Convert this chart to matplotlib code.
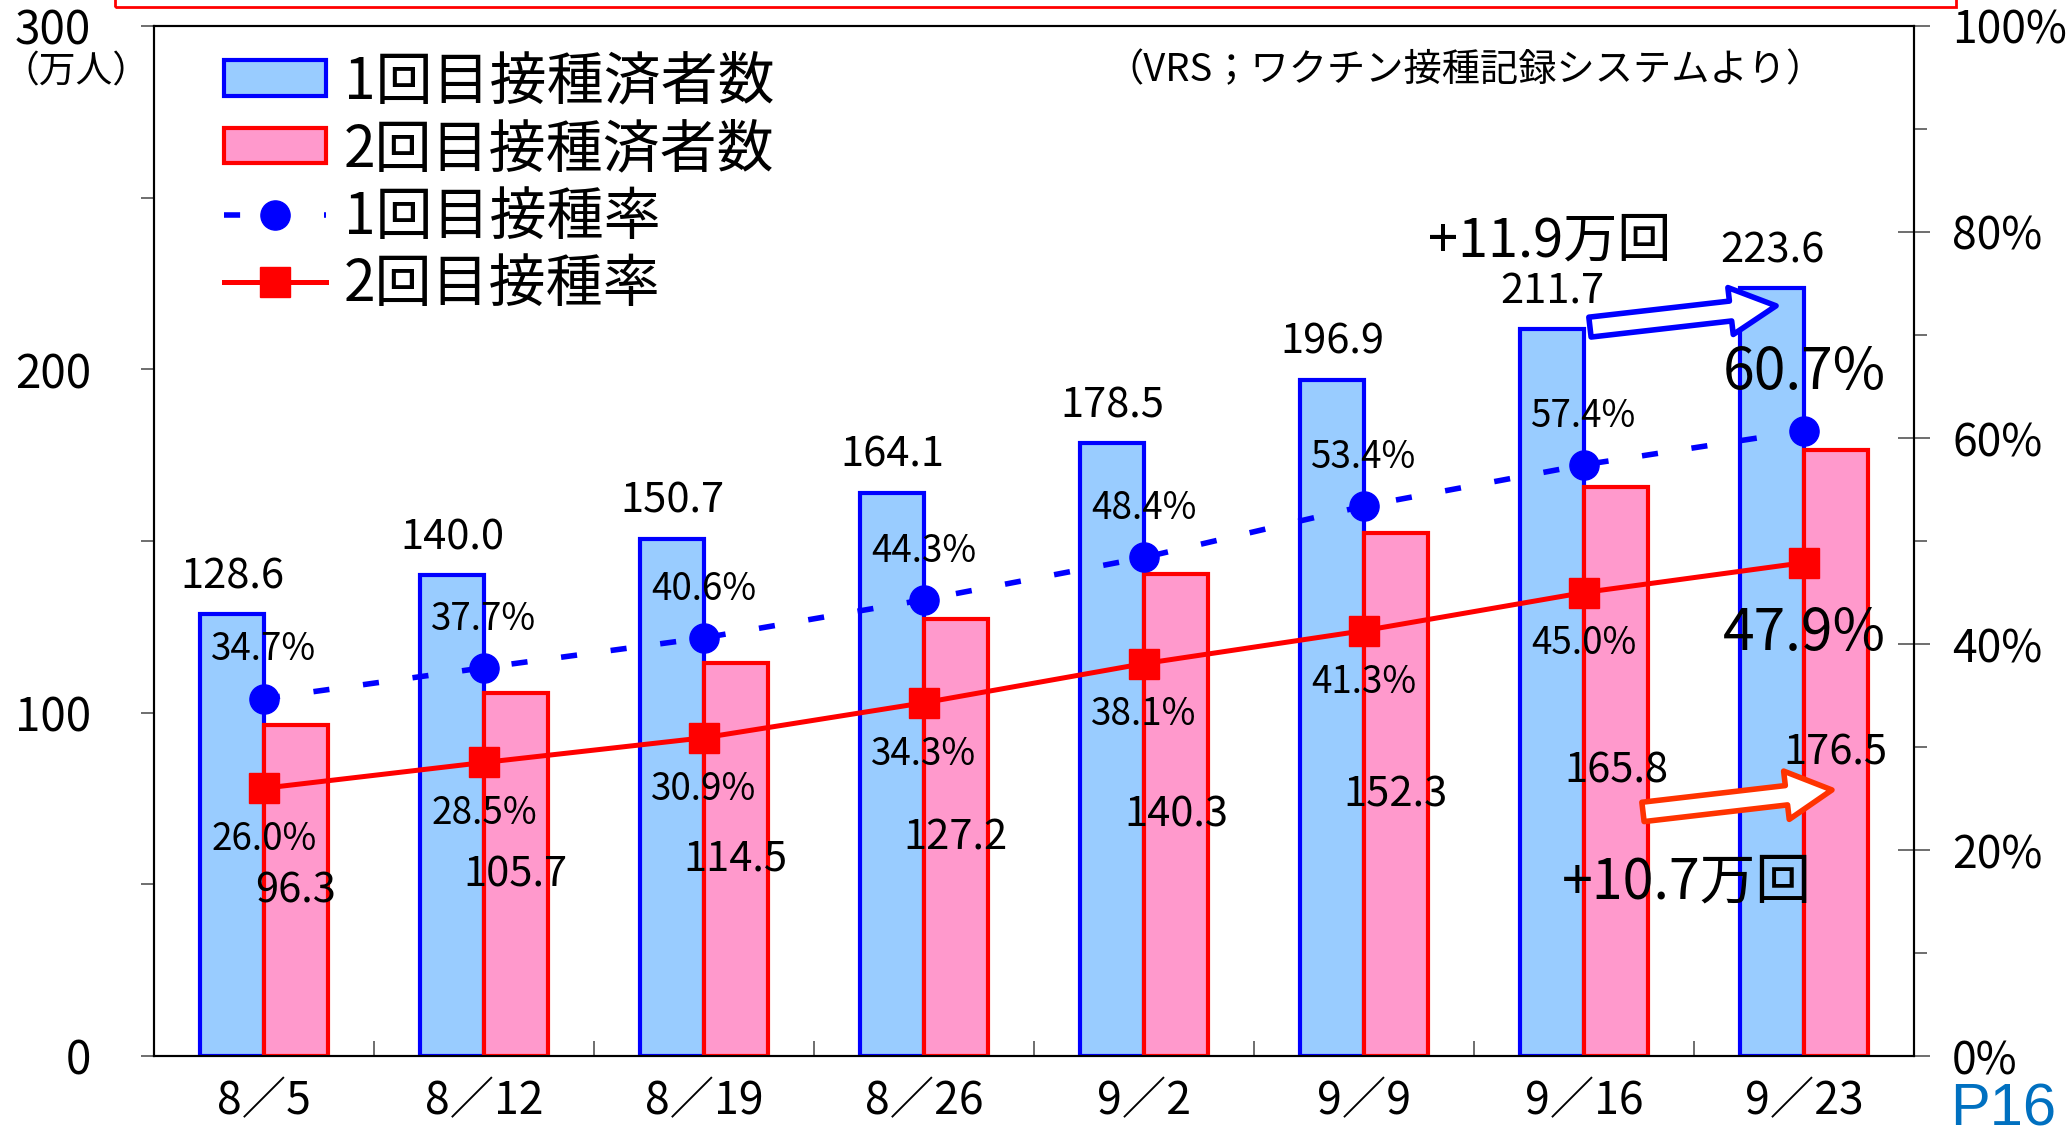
import numpy as np
import matplotlib
matplotlib.use("Agg")
import matplotlib.pyplot as plt
from matplotlib.patches import Rectangle, FancyArrowPatch
from matplotlib.ticker import MultipleLocator

plt.rcParams['font.family'] = ['Noto Sans CJK JP', 'DejaVu Sans']

# data (万人 / %)
dates = ["8／5", "8／12", "8／19", "8／26", "9／2", "9／9", "9／16", "9／23"]
first_dose = [128.6, 140.0, 150.7, 164.1, 178.5, 196.9, 211.7, 223.6]
second_dose = [96.3, 105.7, 114.5, 127.2, 140.3, 152.3, 165.8, 176.5]
first_rate = [34.7, 37.7, 40.6, 44.3, 48.4, 53.4, 57.4, 60.7]
second_rate = [26.0, 28.5, 30.9, 34.3, 38.1, 41.3, 45.0, 47.9]

fig = plt.figure(figsize=(20.69, 11.45), dpi=100)
ax = fig.add_axes([0.0744, 0.0777, 0.8507, 0.8996])
ax2 = ax.twinx()

x = np.arange(len(dates))
w = 0.29
ax.bar(x - w / 2, first_dose, w, color='#99CCFF', edgecolor='#0000FF',
       linewidth=3, label='1回目接種済者数', zorder=2)
ax.bar(x + w / 2, second_dose, w, color='#FF99CC', edgecolor='#FF0000',
       linewidth=3, label='2回目接種済者数', zorder=3)

ax2.plot(x, first_rate, color='#0000FF', lw=4, dashes=(2.9, 6.1),
         marker='o', ms=21, label='1回目接種率', zorder=4)
ax2.plot(x, second_rate, color='#FF0000', lw=3.6,
         marker='s', ms=21, label='2回目接種率', zorder=4)

ax.set_xlim(-0.5, len(dates) - 0.5)
ax.set_ylim(0, 300)
ax2.set_ylim(0, 100)

# value labels
for i in range(len(dates)):
    ax.annotate(f"{first_dose[i]:.1f}", (x[i] - w / 2, first_dose[i]),
                xytext=(0, 27), textcoords='offset points',
                ha='center', va='center', fontsize=30, zorder=5)
    ax.text(x[i] + w / 2, second_dose[i] / 2, f"{second_dose[i]:.1f}",
            ha='center', va='center', fontsize=30, zorder=5)
    last = i == len(dates) - 1
    ax2.annotate(f"{first_rate[i]:.1f}%", (x[i], first_rate[i]),
                 xytext=(0, 42 if last else 35), textcoords='offset points',
                 ha='center', va='center', fontsize=41 if last else 26.5, zorder=6)
    ax2.annotate(f"{second_rate[i]:.1f}%", (x[i], second_rate[i]),
                 xytext=(0, -51 if last else -37), textcoords='offset points',
                 ha='center', va='center', fontsize=41 if last else 26.5, zorder=6)

# week-on-week arrows
arr1 = FancyArrowPatch((6.027, 212.3), (6.873, 218.5),
                       arrowstyle='simple,head_length=3.3,head_width=3.4,tail_width=1.44',
                       mutation_scale=10, fc='white', ec='#0000FF', lw=4,
                       shrinkA=0, shrinkB=0, zorder=6)
arr2 = FancyArrowPatch((6.268, 71.1), (7.127, 77.5),
                       arrowstyle='simple,head_length=3.3,head_width=3.5,tail_width=1.4',
                       mutation_scale=10, fc='white', ec='#FF3300', lw=4,
                       shrinkA=0, shrinkB=0, zorder=6)
ax.add_patch(arr1)
ax.add_patch(arr2)
ax.text(5.845, 237.5, "+11.9万回", ha='center', va='center', fontsize=39, zorder=7)
ax.text(6.468, 50.5, "+10.7万回", ha='center', va='center', fontsize=40, zorder=7)

ax.text(0.745, 0.957, "（VRS；ワクチン接種記録システムより）", transform=ax.transAxes,
        ha='center', va='center', fontsize=27.5)

# axes / ticks
ax.set_xticks(x, dates)
ax.set_xticks(np.arange(0.5, len(dates) - 1, 1), minor=True)
ax.tick_params(axis='x', which='major', length=0, pad=16, labelsize=32)
ax.tick_params(axis='x', which='minor', direction='in', length=11, width=1.2, color='#555555')

ax.set_yticks([0, 100, 200, 300])
ax.yaxis.set_minor_locator(MultipleLocator(50))
ax.tick_params(axis='y', which='both', direction='out', length=9.4, width=1.2,
               color='#555555', labelsize=33, pad=36)

ax2.set_yticks([0, 20, 40, 60, 80, 100], [f"{v}%" for v in [0, 20, 40, 60, 80, 100]])
ax2.yaxis.set_minor_locator(MultipleLocator(10))
ax2.tick_params(axis='y', which='major', direction='inout', length=23, width=1.2,
                color='#555555', labelsize=32, pad=16)
ax2.tick_params(axis='y', which='minor', direction='out', length=9, width=1.2, color='#555555')

for a in (ax, ax2):
    for s in a.spines.values():
        s.set_linewidth(1.5)
        s.set_color('black')

fig.text(0.0365, 0.937, "（万人）", ha='center', va='center', fontsize=26.5)

h1, l1 = ax.get_legend_handles_labels()
h2, l2 = ax2.get_legend_handles_labels()
ax2.legend(h1 + h2, l1 + l2, loc='upper left', bbox_to_anchor=(0.0398, 0.974),
           frameon=False, fontsize=41, handlelength=1.8, handleheight=0.58,
           labelspacing=0.16, handletextpad=0.3, borderpad=0, borderaxespad=0)

# red frame of the title box (cut off at the top)
fig.add_artist(Rectangle((115 / 2069, 1 - 7 / 1145), 1841 / 2069, 0.05,
                         transform=fig.transFigure, fill=False, ec='#FF0000',
                         lw=2, clip_on=False))

fig.text(0.968, 0.0306, "P16", ha='center', va='center', fontsize=43,
         color='#0070C0', family=['Liberation Sans', 'DejaVu Sans'])

fig.savefig("out.png", dpi=100)
